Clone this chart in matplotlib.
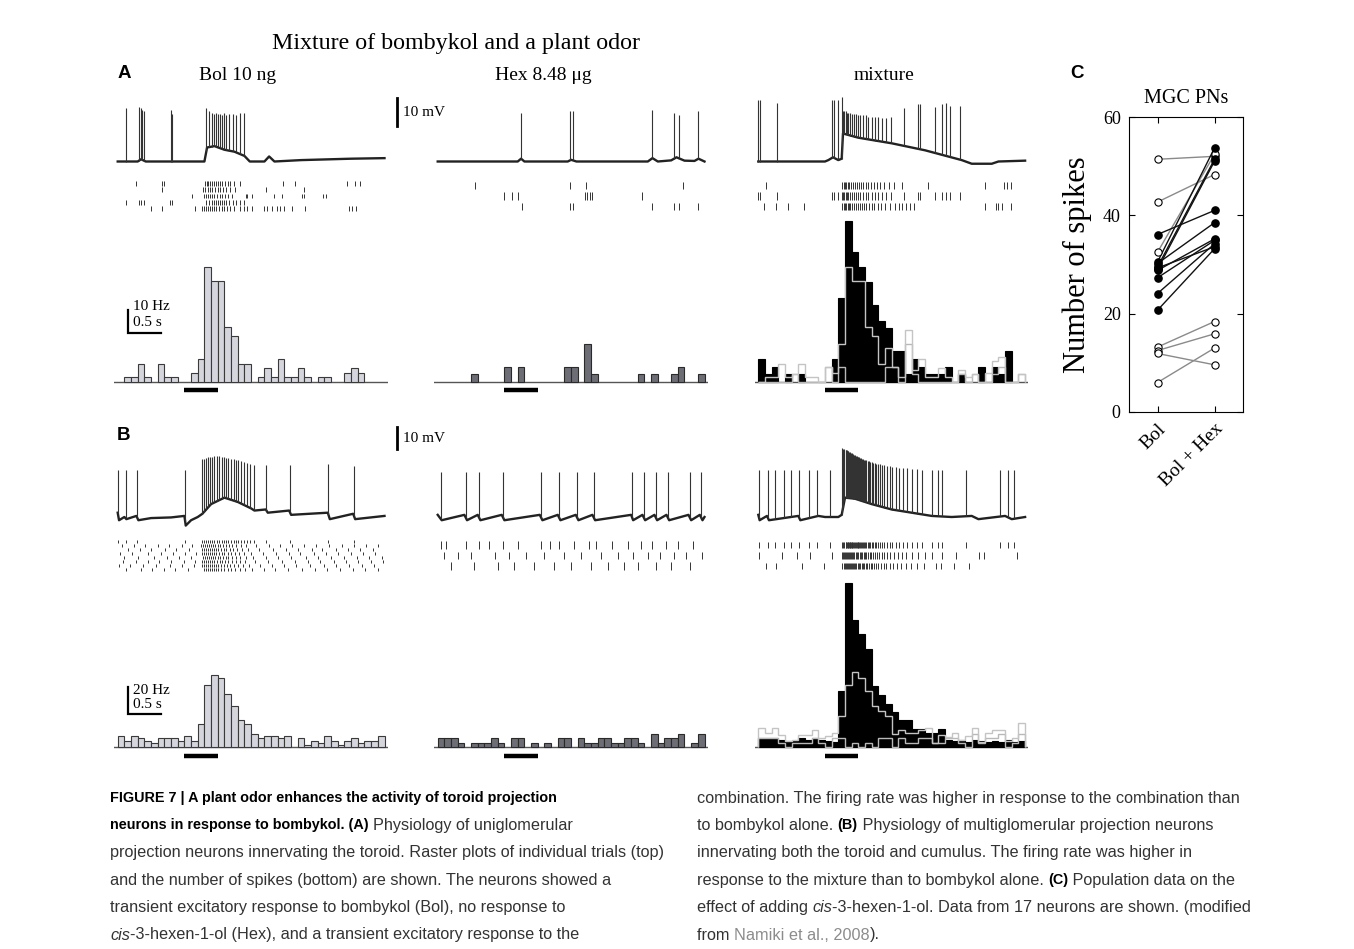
import numpy as np
import matplotlib
matplotlib.use("Agg")
import matplotlib.pyplot as plt

W, H = 1354, 949
SERIF = "Liberation Serif"
CAP_FONT = ["Liberation Sans", "DejaVu Sans"]

# 40 bins of 0.1 s, odor pulse 1.0-1.5 s
bin_edges = np.arange(41) * 0.1
stim = (1.0, 1.5)

# ---------------- histograms (Hz) ----------------
a_bol_hz = [0, 2, 2, 8, 2, 0, 8, 2, 2, 0, 0, 4, 10, 50, 44, 44, 24, 20, 8, 8,
            0, 2, 6, 2, 10, 2, 2, 6, 2, 0, 2, 2, 0, 0, 4, 6, 4, 0, 0, 0]
a_hex_hz = [0, 0, 0, 0, 0, 3.3, 0, 0, 0, 0, 6.7, 0, 6.7, 0, 0, 0, 0, 0, 0, 6.7,
            6.7, 0, 16.7, 3.3, 0, 0, 0, 0, 0, 0, 3.3, 0, 3.3, 0, 0, 3.3, 6.7, 0, 0, 3.3]
a_mix_hz = [10, 3.3, 6.7, 0, 3.3, 0, 3.3, 0, 0, 0, 0, 10, 36.7, 70, 56.7, 50, 43.3, 33.3, 26.7, 23.3,
            13.3, 13.3, 3.3, 10, 6.7, 3.3, 3.3, 3.3, 6.7, 0, 3.3, 0, 0, 6.7, 0, 6.7, 3.3, 13.3, 0, 0]

b_bol_hz = [7.8, 4.1, 7.8, 6.1, 4.1, 2.4, 6.1, 6.1, 6.1, 4.1, 7.8, 4.1, 16.3, 45.6, 53, 50.7, 38.8, 30, 20, 16.3,
            9.3, 6.1, 7.8, 7.8, 6.1, 7.8, 0, 6.1, 1.2, 4.1, 2.4, 7.8, 4.1, 1.2, 4.1, 6.1, 2.4, 4.1, 4.1, 7.8]
b_hex_hz = [6, 6, 6, 2.5, 0, 2.5, 2.5, 2.5, 6, 2.5, 0, 6, 6, 0, 2.5, 0, 2.5, 0, 6, 6,
            0, 6, 2.5, 2.5, 6, 6, 2.5, 2.5, 6, 6, 2.5, 0, 9.5, 2.5, 6, 6, 9.5, 0, 2.5, 9.5]
b_mix_hz = [6, 6, 6, 5, 4, 4, 6, 5, 6, 5, 4, 3, 41, 121, 94, 83, 72, 45, 38.5, 31.6,
            25.4, 20, 20, 13.3, 13.3, 10, 10, 13.3, 5, 4, 5, 3, 5, 4, 3, 4, 3, 5, 3, 4]

# ---------------- rasters (spike times, s) ----------------
a_bol_raster = [
    [0.27, 0.66, 0.69, 1.31, 1.34, 1.36, 1.39, 1.42, 1.45, 1.48, 1.51, 1.54, 1.57, 1.61, 1.65, 1.69,
     1.74, 1.84, 2.48, 2.66, 3.44, 3.56, 3.64],
    [0.66, 1.28, 1.31, 1.35, 1.38, 1.42, 1.46, 1.5, 1.54, 1.58, 1.63, 1.68, 1.76, 2.22, 2.8],
    [1.12, 1.29, 1.32, 1.35, 1.38, 1.41, 1.45, 1.49, 1.53, 1.57, 1.61, 1.66, 1.72, 1.92, 1.94, 2.01,
     2.35, 2.46, 2.76, 2.79, 3.08, 3.13],
    [0.12, 0.32, 0.35, 0.39, 0.79, 0.81, 1.33, 1.37, 1.41, 1.44, 1.48, 1.5, 1.53, 1.56, 1.6, 1.63,
     1.67, 1.73, 1.77, 1.83, 1.9],
    [0.5, 0.66, 1.16, 1.27, 1.3, 1.33, 1.36, 1.39, 1.42, 1.45, 1.48, 1.52, 1.56, 1.6, 1.64, 1.69, 1.75,
     1.83, 1.89, 1.94, 2.01, 2.19, 2.24, 2.31, 2.39, 2.44, 2.49, 2.61, 2.81, 3.47, 3.52, 3.57],
]
a_hex_raster = [
    [0.56, 1.99, 2.22, 3.68],
    [1.0, 1.11, 1.21, 2.21, 2.24, 2.28, 2.31, 3.07],
    [1.26, 1.99, 2.03, 3.22, 3.54, 3.62, 3.91],
]
a_mix_raster = [
    [0.12, 1.26, 1.28, 1.3, 1.32, 1.34, 1.36, 1.39, 1.42, 1.45, 1.48, 1.51, 1.54, 1.57, 1.61, 1.65,
     1.69, 1.73, 1.78, 1.83, 1.89, 1.96, 2.04, 2.15, 2.55, 3.4, 3.69, 3.73, 3.79],
    [0.0, 0.03, 0.28, 1.1, 1.14, 1.19, 1.25, 1.27, 1.29, 1.31, 1.33, 1.35, 1.38, 1.41, 1.44, 1.47,
     1.5, 1.53, 1.57, 1.61, 1.65, 1.7, 1.75, 1.8, 1.86, 1.92, 1.99, 2.19, 2.39, 2.43, 2.65, 2.75,
     2.82, 2.88, 3.02],
    [0.08, 0.27, 0.44, 0.68, 1.26, 1.28, 1.3, 1.32, 1.34, 1.36, 1.38, 1.4, 1.43, 1.46, 1.49, 1.52,
     1.55, 1.58, 1.62, 1.66, 1.7, 1.74, 1.79, 1.84, 1.9, 1.97, 2.05, 2.11, 2.15, 2.21, 2.28, 2.33,
     3.4, 3.56, 3.6, 3.65, 3.79],
]

b_bol_raster = [
    [0.0, 0.12, 0.29, 1.01, 1.26, 1.3, 1.33, 1.36, 1.39, 1.42, 1.45, 1.49, 1.52, 1.56, 1.59, 1.63,
     1.66, 1.7, 1.74, 1.78, 1.81, 1.85, 1.9, 1.94, 1.98, 2.04, 2.23, 2.58, 3.16, 3.54],
    [0.06, 0.24, 0.41, 0.6, 0.77, 0.96, 1.12, 1.25, 1.28, 1.31, 1.34, 1.37, 1.4, 1.43, 1.46, 1.5,
     1.54, 1.58, 1.62, 1.67, 1.72, 1.78, 1.85, 1.93, 2.08, 2.27, 2.44, 2.62, 2.79, 2.98, 3.17, 3.36,
     3.55, 3.72, 3.9],
    [0.15, 0.33, 0.5, 0.71, 0.88, 1.07, 1.27, 1.3, 1.33, 1.36, 1.39, 1.42, 1.45, 1.48, 1.51, 1.55,
     1.59, 1.63, 1.68, 1.73, 1.79, 1.86, 1.95, 2.12, 2.33, 2.52, 2.7, 2.91, 3.07, 3.27, 3.46, 3.64,
     3.83],
    [0.03, 0.21, 0.45, 0.65, 0.83, 1.01, 1.18, 1.26, 1.29, 1.32, 1.35, 1.38, 1.41, 1.44, 1.48, 1.52,
     1.56, 1.6, 1.65, 1.7, 1.76, 1.82, 1.9, 2.0, 2.18, 2.38, 2.57, 2.74, 2.94, 3.12, 3.31, 3.5, 3.68,
     3.86],
    [0.1, 0.3, 0.55, 0.74, 0.92, 1.1, 1.28, 1.31, 1.34, 1.37, 1.4, 1.43, 1.46, 1.5, 1.54, 1.58, 1.62,
     1.66, 1.71, 1.77, 1.84, 1.92, 2.03, 2.22, 2.41, 2.6, 2.83, 3.01, 3.2, 3.4, 3.59, 3.77, 3.96],
    [0.08, 0.27, 0.46, 0.62, 0.8, 0.99, 1.16, 1.27, 1.3, 1.33, 1.36, 1.39, 1.42, 1.45, 1.49, 1.53,
     1.57, 1.61, 1.66, 1.71, 1.77, 1.83, 1.91, 2.06, 2.25, 2.46, 2.66, 2.86, 3.04, 3.24, 3.43, 3.61,
     3.8, 3.98],
    [0.02, 0.19, 0.38, 0.57, 0.79, 0.97, 1.14, 1.26, 1.29, 1.32, 1.35, 1.38, 1.41, 1.44, 1.47, 1.51,
     1.55, 1.59, 1.64, 1.69, 1.75, 1.81, 1.88, 1.97, 2.14, 2.31, 2.5, 2.68, 2.88, 3.09, 3.28, 3.47,
     3.66, 3.85],
    [0.13, 0.35, 0.52, 0.69, 0.86, 1.05, 1.29, 1.32, 1.35, 1.38, 1.41, 1.44, 1.47, 1.51, 1.55, 1.6,
     1.65, 1.7, 1.76, 1.83, 1.91, 2.01, 2.2, 2.36, 2.55, 2.77, 2.96, 3.14, 3.34, 3.53, 3.71, 3.9],
]
b_hex_raster = [
    [0.05, 0.12, 0.42, 0.62, 0.77, 0.98, 1.2, 1.55, 1.68, 1.82, 2.05, 2.27, 2.38, 2.62, 2.86, 3.05,
     3.22, 3.43, 3.61, 3.83],
    [0.1, 0.3, 0.5, 0.86, 1.07, 1.33, 1.6, 1.9, 2.15, 2.45, 2.7, 2.93, 3.15, 3.33, 3.55, 3.72, 3.96],
    [0.2, 0.55, 0.9, 1.15, 1.45, 1.75, 2.0, 2.3, 2.55, 2.8, 3.0, 3.27, 3.5, 3.78],
]
b_mix_raster = [
    [0.01, 0.14, 0.25, 0.38, 0.49, 0.61, 0.76, 0.88, 1.08, 1.25, 1.27, 1.29, 1.31, 1.32, 1.33, 1.34,
     1.35, 1.36, 1.37, 1.38, 1.39, 1.4, 1.41, 1.42, 1.435, 1.45, 1.46, 1.475, 1.49, 1.5, 1.515, 1.53,
     1.545, 1.56, 1.575, 1.59, 1.605, 1.62, 1.64, 1.66, 1.68, 1.7, 1.72, 1.745, 1.77, 1.8, 1.83,
     1.86, 1.89, 1.93, 1.97, 2.01, 2.06, 2.11, 2.17, 2.23, 2.3, 2.38, 2.46, 2.61, 2.69, 2.76, 3.11,
     3.63, 3.75, 3.84],
    [0.01, 0.36, 0.58, 0.78, 1.1, 1.25, 1.27, 1.285, 1.3, 1.315, 1.33, 1.345, 1.36, 1.375, 1.39,
     1.405, 1.42, 1.44, 1.46, 1.48, 1.5, 1.52, 1.54, 1.56, 1.58, 1.6, 1.62, 1.645, 1.67, 1.695, 1.72,
     1.75, 1.78, 1.81, 1.85, 1.89, 1.93, 1.98, 2.03, 2.09, 2.15, 2.22, 2.3, 2.4, 2.5, 2.61, 2.76,
     2.96, 3.31, 3.38, 3.88],
    [0.11, 0.26, 0.66, 0.98, 1.26, 1.28, 1.295, 1.31, 1.325, 1.34, 1.355, 1.37, 1.385, 1.4, 1.415,
     1.43, 1.45, 1.47, 1.49, 1.51, 1.53, 1.55, 1.57, 1.59, 1.61, 1.635, 1.66, 1.685, 1.71, 1.74,
     1.77, 1.8, 1.84, 1.88, 1.92, 1.97, 2.02, 2.08, 2.14, 2.21, 2.29, 2.38, 2.48, 2.66, 2.74, 2.94,
     3.16],
]

# ---------------- membrane traces (mV rel. to rest) ----------------
a_bol_knots_t = [0, 0.3, 0.35, 0.42, 0.8, 1.3, 1.34, 1.45, 1.6, 1.75, 1.9, 1.98, 2.2, 2.27, 2.35,
                 2.75, 3.2, 3.5, 4.0]
a_bol_knots_v = [0, 0, 0.8, 0, 0, 0, 5, 5.5, 4.2, 3.5, 2, 0, 0, 1.8, 0, 0.5, 0.8, 1, 1.2]
a_bol_spikes = [0.12, 0.32, 0.345, 0.37, 0.4, 0.8, 0.815, 1.33, 1.37, 1.41, 1.44, 1.48, 1.5, 1.53,
                1.56, 1.6, 1.63, 1.67, 1.73, 1.77, 1.83, 1.9]
a_bol_peaks = [19, 19.5, 19, 18.5, 18, 18.5, 17, 19, 18, 17.5, 17, 17.5, 17, 17, 16.5, 17.5, 16.5,
               17, 17, 16.5, 17.5, 17.5]

a_hex_knots_t = [0, 1.2, 1.25, 1.3, 1.95, 2.0, 2.08, 3.15, 3.22, 3.3, 3.5, 3.58, 3.7, 3.85, 3.91, 4.0]
a_hex_knots_v = [0, 0, 1, 0, 0, 0.6, 0, 0, 1.2, 0, 0.4, 1.5, 0.3, 0.2, 1, 0]
a_hex_spikes = [1.25, 1.99, 2.03, 3.22, 3.54, 3.62, 3.91]
a_hex_peaks = [17.3, 17.9, 17.9, 18.5, 17.5, 16.7, 18]

a_mix_knots_t = [0, 1.0, 1.05, 1.12, 1.2, 1.25, 1.27, 1.5, 2.0, 2.5, 3.05, 3.2, 3.5, 3.6, 4.0]
a_mix_knots_v = [0, 0, 0.5, 1.5, 0.5, 1, 10, 8.5, 6.5, 4, 0.5, -0.8, -0.8, 0, 0.3]
a_mix_spikes = a_mix_raster[1]
a_mix_peaks = [22, 22, 21, 22, 22, 22, 23, 18, 18, 18, 17.5, 17.5, 17.5, 17, 17, 17, 16.5, 16.5,
               16.5, 16.5, 16, 16, 16, 16, 15.5, 15.5, 16, 19, 20.5, 20.5, 19.5, 20.5, 21, 20, 20]

b_bol_knots_t = [0.0, 0.02, 0.1, 0.13, 0.28, 0.31, 0.5, 0.8, 1.0, 1.02, 1.1, 1.2, 1.27, 1.4, 1.6,
                 1.8, 2.0, 2.05, 2.22, 2.25, 2.57, 2.6, 3.15, 3.18, 3.53, 3.56, 4.0]
b_bol_knots_v = [2, -1.5, 0, -1, 0.5, -1.5, -0.5, -0.2, 0.5, -4, -1.5, 0, 1.5, 6, 9, 7, 4, 3, 3.5,
                 2, 3, 1, 2, -1, 1.5, -1, 0.5]
b_bol_spikes = b_bol_raster[0]
b_bol_peaks = [22, 22, 22, 22, 27, 27, 27.5, 28, 28, 28, 28.5, 28.5, 28.5, 28, 28, 27.5, 27.5, 27,
               27, 26.5, 26.5, 26, 25.5, 25, 24.5, 24, 24, 24, 24.5, 23.5]

b_hex_knots_t = [0, 0.06, 0.4, 0.44, 0.6, 0.64, 0.96, 1.0, 1.53, 1.57, 1.8, 1.84, 2.07, 2.11, 2.32,
                 2.36, 2.9, 2.93, 3.07, 3.11, 3.25, 3.29, 3.43, 3.47, 3.76, 3.8, 3.93, 3.97, 4.0]
b_hex_knots_v = [1, -1.5, 1, -1.5, 1, -1.5, 1, -1.5, 1, -1.5, 1, -1.5, 1, -1.5, 1, -1.5, 1, -1.5,
                 1, -1.5, 1, -1.5, 1, -1.5, 1, -1.5, 1, -1.5, 0]
b_hex_spikes = [0.05, 0.42, 0.62, 0.98, 1.55, 1.82, 2.09, 2.34, 2.91, 3.09, 3.27, 3.45, 3.78, 3.95]
b_hex_peaks = [21, 21, 21, 21, 21, 21, 21, 21, 21, 21, 21, 21, 21, 21]

b_mix_knots_t = [0, 0.02, 0.13, 0.16, 0.6, 0.63, 0.9, 1.0, 1.2, 1.25, 1.3, 1.45, 1.7, 2.0, 2.3, 2.6,
                 2.9, 3.2, 3.3, 3.7, 3.8, 4.0]
b_mix_knots_v = [1, -1.5, 0.5, -1.5, 0.5, -1.5, 0.5, 0, 0, 1, 9, 8.5, 6, 3.5, 2, 0.5, 0, 0.5, -1,
                 0.5, -1, 0]
b_mix_spikes = b_mix_raster[0]
b_mix_peaks = [22] * 9 + list(np.linspace(32, 22, 50)) + [22] * 7

# ---------------- panel C ----------------
c_filled_bol = [36.1, 30.5, 29.5, 29.0, 30.2, 28.8, 27.3, 24.1, 20.7, 29.3]
c_filled_mix = [41.0, 53.7, 51.4, 51.0, 38.5, 35.2, 34.9, 34.2, 33.2, 33.6]
c_open_bol = [51.4, 42.7, 32.5, 13.2, 12.5, 11.9, 6.0]
c_open_mix = [52.0, 48.3, 52.4, 18.4, 15.9, 9.6, 13.0]
c_xlabels = ["Bol", "Bol + Hex"]


def add_ax(x0, y0, x1, y1):
    """axes from a pixel box (top-left origin)"""
    ax = fig.add_axes([x0 / W, 1 - y1 / H, (x1 - x0) / W, (y1 - y0) / H])
    ax.set_axis_off()
    return ax


def ftext(x, y, s, **kw):
    return fig.text(x / W, 1 - y / H, s, **kw)


fig = plt.figure(figsize=(W / 100, H / 100), dpi=100)
fig.patch.set_facecolor("white")

col_t0 = [117.7, 437.7, 758.3]
px_per_s = 66.7
xlim = (-0.05, 4.05)


def col_x(c):
    return col_t0[c] + xlim[0] * px_per_s, col_t0[c] + xlim[1] * px_per_s


rows = {
    "A": dict(tr=(90, 175, 161.5, 2.8), ra=(180.5, 211.5), hi=(212, 386, 382, 2.3), stim_y=390),
    "B": dict(tr=(430, 535, 517, 2.15), ra=(539.5, 571.5), hi=(575, 750, 746.5, 1.35), stim_y=756),
}


def trace_ax(c, r):
    y0, y1, base, ppm = rows[r]["tr"]
    x0, x1 = col_x(c)
    ax = add_ax(x0, y0, x1, y1)
    ax.set_xlim(*xlim)
    ax.set_ylim(-(y1 - base) / ppm, (base - y0) / ppm)
    return ax


def draw_trace(ax, kt, kv, spikes, peaks):
    ax.plot(kt, kv, color="#222222", lw=1.7, solid_joinstyle="round")
    sp = np.asarray(spikes, float)
    ax.vlines(sp, np.interp(sp, kt, kv), peaks, color="#333333", lw=0.8)


def draw_raster(c, r, trials, tick_frac):
    y0, y1 = rows[r]["ra"]
    x0, x1 = col_x(c)
    ax = add_ax(x0, y0, x1, y1)
    n = len(trials)
    ax.eventplot(trials, lineoffsets=np.arange(1, n + 1), linelengths=tick_frac,
                 colors="#333333", linewidths=0.7)
    ax.set_xlim(*xlim)
    ax.set_ylim(n + 0.5, 0.5)


def hist_ax(c, r):
    y0, y1, base, pph = rows[r]["hi"]
    x0, x1 = col_x(c)
    ax = add_ax(x0, y0, x1, y1)
    ax.set_xlim(*xlim)
    ax.set_ylim(-(y1 - base) / pph, (base - y0) / pph)
    ax.axhline(0, color="#555555", lw=1.0, zorder=1)
    stim_hz = (base - rows[r]["stim_y"]) / pph
    ax.plot(stim, [stim_hz, stim_hz], color="black", lw=3.2, solid_capstyle="butt", clip_on=False)
    return ax


def bars(ax, vals, face, edge):
    v = np.asarray(vals, float)
    keep = v > 0
    ax.bar(bin_edges[:-1][keep], v[keep], width=0.1, align="edge", color=face,
           edgecolor=edge, linewidth=0.8, zorder=2)


hist_axes = {}
for r, (bol, hexh, mix) in {"A": (a_bol_hz, a_hex_hz, a_mix_hz),
                            "B": (b_bol_hz, b_hex_hz, b_mix_hz)}.items():
    ax = hist_ax(0, r)
    hist_axes[r] = ax
    bars(ax, bol, "#d5d5de", "#3a3a3a")
    ax = hist_ax(1, r)
    bars(ax, hexh, "#6d6d76", "#2a2a2a")
    ax = hist_ax(2, r)
    bars(ax, mix, "black", "black")
    hx = np.asarray(hexh, float)
    ax.stairs(hx, bin_edges, baseline=0, color="#b8b8b8", lw=1.0, zorder=3)
    ax.stairs(hx + np.asarray(bol, float), bin_edges, baseline=0, color="#c4c4c4", lw=1.0, zorder=3)

# traces
for c, r, kt, kv, sp, pk in [
        (0, "A", a_bol_knots_t, a_bol_knots_v, a_bol_spikes, a_bol_peaks),
        (1, "A", a_hex_knots_t, a_hex_knots_v, a_hex_spikes, a_hex_peaks),
        (2, "A", a_mix_knots_t, a_mix_knots_v, a_mix_spikes, a_mix_peaks),
        (0, "B", b_bol_knots_t, b_bol_knots_v, b_bol_spikes, b_bol_peaks),
        (1, "B", b_hex_knots_t, b_hex_knots_v, b_hex_spikes, b_hex_peaks),
        (2, "B", b_mix_knots_t, b_mix_knots_v, b_mix_spikes, b_mix_peaks)]:
    ax = trace_ax(c, r)
    draw_trace(ax, kt, kv, sp, pk)
    if c == 0:
        # 10 mV scale bar
        y0, y1, base, ppm = rows[r]["tr"]
        bar_top = (base - (98 if r == "A" else 427)) / ppm
        bx = (397 - col_t0[0]) / px_per_s
        ax.plot([bx, bx], [bar_top - 10, bar_top], color="black", lw=2.0, clip_on=False)

ftext(403, 113, "10 mV", family=SERIF, fontsize=11, va="center")
ftext(403, 438, "10 mV", family=SERIF, fontsize=11, va="center")

# rasters
draw_raster(0, "A", a_bol_raster, 0.8)
draw_raster(1, "A", a_hex_raster, 0.7)
draw_raster(2, "A", a_mix_raster, 0.7)
draw_raster(0, "B", b_bol_raster, 0.75)
draw_raster(1, "B", b_hex_raster, 0.7)
draw_raster(2, "B", b_mix_raster, 0.6)

# histogram scale bars (Hz / 0.5 s)
sb_specs = [("A", 10, "10 Hz", 333, 306.7, 322.7), ("B", 20, "20 Hz", 714, 690, 704)]
for r, hz, lab, ybot, yt1, yt2 in sb_specs:
    y0, y1, base, pph = rows[r]["hi"]
    ax = hist_axes[r]
    yb = (base - ybot) / pph
    t0 = (127.7 - col_t0[0]) / px_per_s
    ax.plot([t0, t0, t0 + 0.5], [yb + hz, yb, yb], color="black", lw=1.6, solid_joinstyle="miter")
    ftext(133, yt1, lab, family=SERIF, fontsize=11, va="center")
    ftext(133, yt2, "0.5 s", family=SERIF, fontsize=11, va="center")

# titles
ftext(272, 43, "Mixture of bombykol and a plant odor", family=SERIF, fontsize=17.3,
      ha="left", va="center")
for x, s in [(238, "Bol 10 ng"), (543, "Hex 8.48 \u03bcg"), (884, "mixture")]:
    ftext(x, 76, s, family=SERIF, fontsize=14, ha="center", va="center")
for x, y, s in [(124, 74, "A"), (124, 436, "B"), (1077, 74, "C")]:
    ftext(x, y, s, family="Liberation Sans", fontweight="bold", fontsize=13.5,
          ha="center", va="center")

# ---------------- panel C ----------------
axc = fig.add_axes([1129 / W, 1 - 412 / H, 114 / W, 295 / H])
for b, m in zip(c_open_bol, c_open_mix):
    axc.plot([1, 2], [b, m], color="#8a8a8a", lw=1.0, zorder=2)
for b, m in zip(c_filled_bol, c_filled_mix):
    axc.plot([1, 2], [b, m], color="#111111", lw=1.0, zorder=3)
for b, m in zip(c_open_bol, c_open_mix):
    axc.plot([1, 2], [b, m], ls="none", marker="o", ms=5.2, mfc="white", mec="black", mew=0.8,
             zorder=4)
for b, m in zip(c_filled_bol, c_filled_mix):
    axc.plot([1, 2], [b, m], ls="none", marker="o", ms=5.2, mfc="black", mec="black", zorder=5)
axc.set_xlim(0.5, 2.5)
axc.set_ylim(0, 60)
axc.set_yticks([0, 20, 40, 60])
axc.set_xticks([1, 2])
axc.set_xticklabels(c_xlabels, rotation=45, ha="right", va="top", rotation_mode="anchor")
axc.tick_params(direction="in", top=True, right=True, length=4, width=0.8, labelsize=13,
                pad=6)
for lab in axc.get_xticklabels() + axc.get_yticklabels():
    lab.set_family(SERIF)
for lab in axc.get_xticklabels():
    lab.set_fontsize(14)
for s in axc.spines.values():
    s.set_linewidth(0.8)
axc.set_title("MGC PNs", family=SERIF, fontsize=14.5, pad=10)
axc.set_ylabel("Number of spikes", family=SERIF, fontsize=22, labelpad=8)

# ---------------- caption ----------------
body_size = 11.7
bold_size = 10.4
line_y0 = 798
line_dy = 27.4
G = "#333333"
left_lines = [
    [("FIGURE 7 | A plant odor enhances the activity of toroid projection", "bold", "normal", "black")],
    [("neurons in response to bombykol. (A) ", "bold", "normal", "black"),
     ("Physiology of uniglomerular", "normal", "normal", G)],
    [("projection neurons innervating the toroid. Raster plots of individual trials (top)",
      "normal", "normal", G)],
    [("and the number of spikes (bottom) are shown. The neurons showed a", "normal", "normal", G)],
    [("transient excitatory response to bombykol (Bol), no response to", "normal", "normal", G)],
    [("cis", "normal", "italic", G),
     ("-3-hexen-1-ol (Hex), and a transient excitatory response to the", "normal", "normal", G)],
]
right_lines = [
    [("combination. The firing rate was higher in response to the combination than",
      "normal", "normal", G)],
    [("to bombykol alone. ", "normal", "normal", G), ("(B)", "bold", "normal", "black"),
     (" Physiology of multiglomerular projection neurons", "normal", "normal", G)],
    [("innervating both the toroid and cumulus. The firing rate was higher in",
      "normal", "normal", G)],
    [("response to the mixture than to bombykol alone. ", "normal", "normal", G),
     ("(C)", "bold", "normal", "black"),
     (" Population data on the", "normal", "normal", G)],
    [("effect of adding ", "normal", "normal", G), ("cis", "normal", "italic", G),
     ("-3-hexen-1-ol. Data from 17 neurons are shown. (modified", "normal", "normal", G)],
    [("from ", "normal", "normal", G), ("Namiki et al., 2008", "normal", "normal", "#8c8c8c"),
     (").", "normal", "normal", G)],
]

renderer = fig.canvas.get_renderer()


def rich_line(x, y, parts):
    for txt, weight, style, color in parts:
        size = bold_size if weight == "bold" else body_size
        t = ftext(x, y, txt, family=CAP_FONT, fontsize=size, fontweight=weight,
                  fontstyle=style, color=color, va="center")
        x += t.get_window_extent(renderer=renderer).width


for i, parts in enumerate(left_lines):
    rich_line(110, line_y0 + i * line_dy, parts)
for i, parts in enumerate(right_lines):
    rich_line(697, line_y0 + i * line_dy, parts)

fig.savefig("out.png", dpi=100, facecolor="white")
